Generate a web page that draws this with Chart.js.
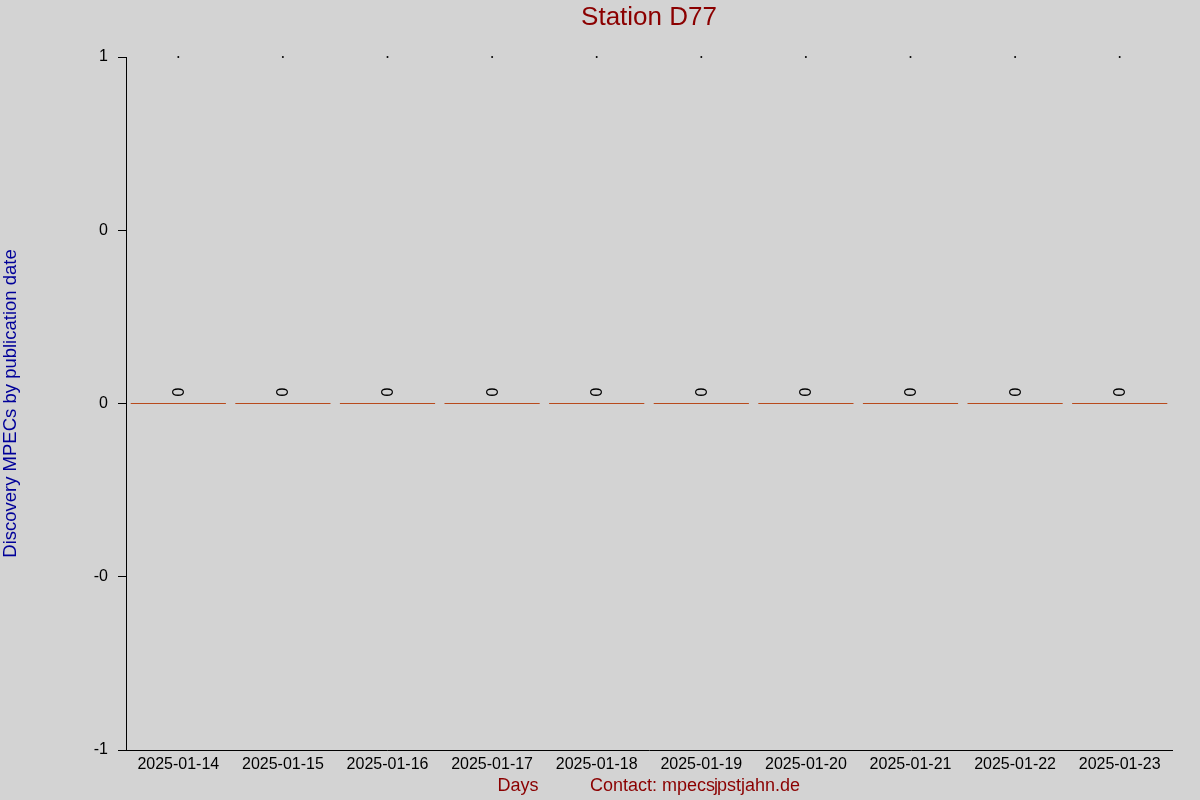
<!DOCTYPE html>
<html>
<head>
<meta charset="utf-8">
<title>Station D77</title>
<script src="https://cdn.jsdelivr.net/npm/chart.js@4/dist/chart.umd.min.js"></script>
<style>
  html, body { margin: 0; padding: 0; background: #d3d3d3; }
  canvas { display: block; }
</style>
</head>
<body>
<canvas id="chart" width="1200" height="800"></canvas>
<script>
// data
const days = ["2025-01-14", "2025-01-15", "2025-01-16", "2025-01-17", "2025-01-18",
              "2025-01-19", "2025-01-20", "2025-01-21", "2025-01-22", "2025-01-23"];
const discoveries = [0, 0, 0, 0, 0, 0, 0, 0, 0, 0];
const topMarks = [1, 1, 1, 1, 1, 1, 1, 1, 1, 1];
const yTickValues = [-1, -0.5, 0, 0.5, 1];
const yTickLabels = ["-1", "-0", "0", "0", "1"];

const FONT = "'Liberation Sans', Arial, sans-serif";
const DARKRED = "#8b0000";

// background + texts outside the axes
const decor = {
  id: "decor",
  beforeDraw(chart) {
    const c = chart.ctx;
    c.save();
    c.fillStyle = "#d3d3d3";
    c.fillRect(0, 0, chart.width, chart.height);
    c.restore();
  },
  afterDatasetsDraw(chart) {
    const c = chart.ctx;
    const meta = chart.getDatasetMeta(0);
    c.save();
    c.fillStyle = "#000";
    c.font = "16px " + FONT;
    c.textAlign = "center";
    c.textBaseline = "middle";
    meta.data.forEach((bar, i) => {
      c.save();
      c.translate(bar.x + 1, bar.y - 12);
      c.rotate(-Math.PI / 2);
      c.fillText(String(discoveries[i]), 0, 0);
      c.restore();
    });
    c.restore();
  },
  afterDraw(chart) {
    const c = chart.ctx;
    const a = chart.chartArea;
    c.save();
    c.fillStyle = DARKRED;
    c.textBaseline = "middle";
    c.textAlign = "center";
    c.font = "26px " + FONT;
    c.fillText("Station D77", (a.left + a.right) / 2, 18);

    c.font = "18px " + FONT;
    c.fillText("Days", 518, 786);
    c.textAlign = "left";
    const first = "Contact: mpecs";
    const x0 = 590;
    c.fillText(first, x0, 786);
    const w = c.measureText(first).width;
    c.fillText("j", x0 + w - 1, 786);
    c.fillText("pstjahn.de", x0 + w + 2, 786);
    c.restore();
  }
};

new Chart(document.getElementById("chart"), {
  type: "bar",
  data: {
    labels: days,
    datasets: [
      {
        data: discoveries,
        backgroundColor: "#b84a1c",
        borderWidth: 0,
        minBarLength: 1,
        categoryPercentage: 1,
        barPercentage: 0.91
      },
      {
        type: "line",
        data: topMarks,
        showLine: false,
        pointRadius: 1,
        pointBorderWidth: 0,
        pointBackgroundColor: "#000",
        clip: false
      }
    ]
  },
  options: {
    responsive: false,
    animation: false,
    devicePixelRatio: 1,
    layout: { padding: { top: 57, right: 28, bottom: 0, left: 0 } },
    plugins: {
      legend: { display: false },
      title: { display: false },
      tooltip: { enabled: false }
    },
    scales: {
      x: {
        afterFit: (s) => { s.height = 50; },
        grid: { display: false, drawTicks: false },
        border: { display: true, color: "#000", width: 1 },
        ticks: { color: "#000", font: { family: FONT, size: 16 }, padding: 5, maxRotation: 0 }
      },
      y: {
        min: -1,
        max: 1,
        afterFit: (s) => { s.width = 126; },
        afterBuildTicks: (s) => { s.ticks = yTickValues.map(v => ({ value: v })); },
        grid: { drawOnChartArea: false, drawTicks: true, tickLength: 8, tickColor: "#000" },
        border: { display: true, color: "#000", width: 1 },
        ticks: {
          color: "#000",
          font: { family: FONT, size: 16 },
          padding: 10,
          callback: (v) => yTickLabels[yTickValues.indexOf(v)]
        },
        title: {
          display: true,
          text: "Discovery MPECs by publication date",
          color: "#000099",
          font: { family: FONT, size: 18.5 },
          padding: 0
        }
      }
    }
  },
  plugins: [decor]
});
</script>
</body>
</html>
